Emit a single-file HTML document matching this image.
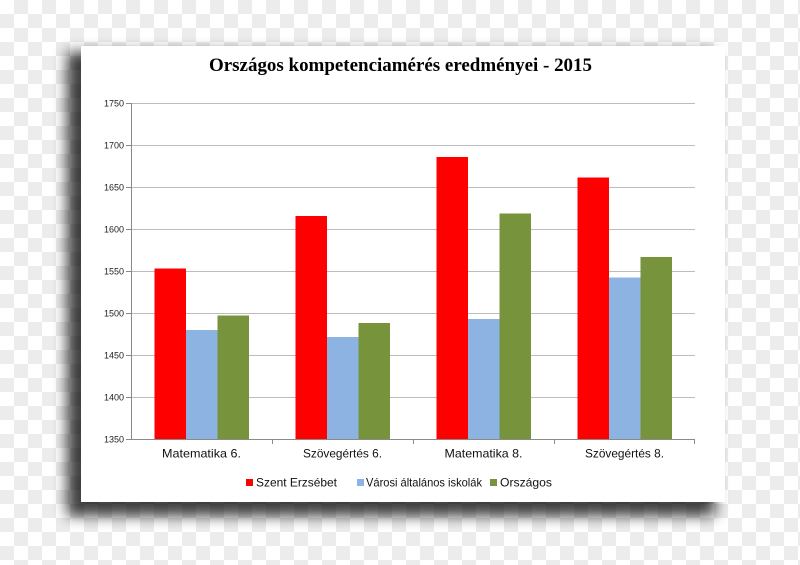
<!DOCTYPE html>
<html>
<head>
<meta charset="utf-8">
<style>
html,body{margin:0;padding:0;background:#fff;}
svg{display:block;}
</style>
</head>
<body>
<svg width="800" height="565" viewBox="0 0 800 565" xmlns="http://www.w3.org/2000/svg">
<defs>
<pattern id="chk" x="0" y="0" width="28" height="28" patternUnits="userSpaceOnUse">
<rect width="28" height="28" fill="#ffffff"/>
<rect x="14" y="0" width="14" height="14" fill="#ececec"/>
<rect x="0" y="14" width="14" height="14" fill="#ececec"/>
</pattern>
<filter id="blur" x="-20%" y="-20%" width="140%" height="140%">
<feGaussianBlur stdDeviation="7"/>
</filter>
</defs>
<rect width="800" height="565" fill="url(#chk)"/>
<rect x="67" y="52" width="648" height="464" fill="#000" opacity="0.75" filter="url(#blur)"/>
<rect x="81" y="46" width="644" height="456" fill="#ffffff"/>

<text x="400.5" y="71" text-anchor="middle" font-family="Liberation Serif, serif" font-weight="bold" font-size="19" textLength="383" lengthAdjust="spacingAndGlyphs" fill="#000">Országos kompetenciamérés eredményei - 2015</text>

<g stroke="#bcbcbc" stroke-width="1">
<line x1="131" y1="103.5" x2="695" y2="103.5"/>
<line x1="131" y1="145.5" x2="695" y2="145.5"/>
<line x1="131" y1="187.5" x2="695" y2="187.5"/>
<line x1="131" y1="229.5" x2="695" y2="229.5"/>
<line x1="131" y1="271.5" x2="695" y2="271.5"/>
<line x1="131" y1="313.5" x2="695" y2="313.5"/>
<line x1="131" y1="355.5" x2="695" y2="355.5"/>
<line x1="131" y1="397.5" x2="695" y2="397.5"/>
</g>

<g>
<rect x="154.5" y="268.5" width="31.5" height="170.5" fill="#ff0000"/>
<rect x="186" y="330" width="31.5" height="109" fill="#8db3e2"/>
<rect x="217.5" y="315.5" width="31.5" height="123.5" fill="#77933c"/>
<rect x="295.5" y="216" width="31.5" height="223" fill="#ff0000"/>
<rect x="327" y="337" width="31.5" height="102" fill="#8db3e2"/>
<rect x="358.5" y="323" width="31.5" height="116" fill="#77933c"/>
<rect x="436.5" y="157" width="31.5" height="282" fill="#ff0000"/>
<rect x="468" y="319" width="31.5" height="120" fill="#8db3e2"/>
<rect x="499.5" y="213.5" width="31.5" height="225.5" fill="#77933c"/>
<rect x="577.5" y="177.5" width="31.5" height="261.5" fill="#ff0000"/>
<rect x="609" y="277.5" width="31.5" height="161.5" fill="#8db3e2"/>
<rect x="640.5" y="257" width="31.5" height="182" fill="#77933c"/>
</g>

<g stroke="#8a8a8a" stroke-width="1">
<line x1="131.5" y1="103" x2="131.5" y2="439.5"/>
<line x1="126" y1="439.5" x2="695" y2="439.5"/>
<line x1="126" y1="103.5" x2="131" y2="103.5"/>
<line x1="126" y1="145.5" x2="131" y2="145.5"/>
<line x1="126" y1="187.5" x2="131" y2="187.5"/>
<line x1="126" y1="229.5" x2="131" y2="229.5"/>
<line x1="126" y1="271.5" x2="131" y2="271.5"/>
<line x1="126" y1="313.5" x2="131" y2="313.5"/>
<line x1="126" y1="355.5" x2="131" y2="355.5"/>
<line x1="126" y1="397.5" x2="131" y2="397.5"/>
<line x1="272.5" y1="439" x2="272.5" y2="444"/>
<line x1="413.5" y1="439" x2="413.5" y2="444"/>
<line x1="554.5" y1="439" x2="554.5" y2="444"/>
<line x1="694.5" y1="439" x2="694.5" y2="444"/>
</g>

<g font-family="Liberation Sans, sans-serif" font-size="9" fill="#222" text-anchor="end">
<text x="124" y="106.5">1750</text>
<text x="124" y="148.5">1700</text>
<text x="124" y="190.5">1650</text>
<text x="124" y="232.5">1600</text>
<text x="124" y="274.5">1550</text>
<text x="124" y="316.5">1500</text>
<text x="124" y="358.5">1450</text>
<text x="124" y="400.5">1400</text>
<text x="124" y="442.5">1350</text>
</g>

<g font-family="Liberation Sans, sans-serif" font-size="12" fill="#111" text-anchor="middle">
<text x="201.5" y="457.5" textLength="79" lengthAdjust="spacingAndGlyphs">Matematika 6.</text>
<text x="342.5" y="457.5" textLength="79" lengthAdjust="spacingAndGlyphs">Szövegértés 6.</text>
<text x="483.5" y="457.5" textLength="78" lengthAdjust="spacingAndGlyphs">Matematika 8.</text>
<text x="624.5" y="457.5" textLength="79" lengthAdjust="spacingAndGlyphs">Szövegértés 8.</text>
</g>

<g font-family="Liberation Sans, sans-serif" font-size="12" fill="#111">
<rect x="246" y="479" width="7" height="7" fill="#ff0000"/>
<text x="256" y="486.5" textLength="81" lengthAdjust="spacingAndGlyphs">Szent Erzsébet</text>
<rect x="357" y="479" width="7" height="7" fill="#8db3e2"/>
<text x="366" y="486.5" textLength="116" lengthAdjust="spacingAndGlyphs">Városi általános iskolák</text>
<rect x="490" y="479" width="7" height="7" fill="#77933c"/>
<text x="500" y="486.5" textLength="52" lengthAdjust="spacingAndGlyphs">Országos</text>
</g>
</svg>
</body>
</html>
